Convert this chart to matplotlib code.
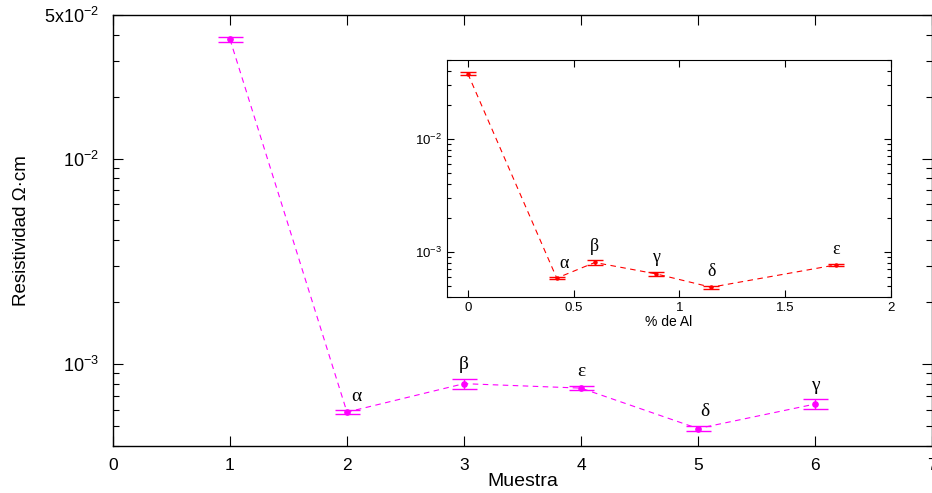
import matplotlib
matplotlib.use("Agg")
import matplotlib.pyplot as plt
from matplotlib.ticker import LogLocator, NullFormatter, FixedLocator, FixedFormatter

plt.rcParams['font.family'] = ['Liberation Sans', 'DejaVu Sans']
plt.rcParams['mathtext.fontset'] = 'custom'
plt.rcParams['mathtext.rm'] = 'Liberation Sans'

# Main data: resistivity vs sample number
muestra = [1, 2, 3, 4, 5, 6]
resist = [3.81e-2, 5.83e-4, 8.02e-4, 7.63e-4, 4.85e-4, 6.38e-4]
resist_err = [1.1e-3, 1.3e-5, 4.6e-5, 2.0e-5, 1.4e-5, 3.6e-5]
main_labels = ['', 'α', 'β', 'ε', 'δ', 'γ']

# Inset data: resistivity vs % Al
al_pct = [0.0, 0.42, 0.60, 0.89, 1.15, 1.74]
resist_al = [3.78e-2, 5.85e-4, 8.05e-4, 6.38e-4, 4.86e-4, 7.67e-4]
resist_al_err = [1.2e-3, 1.3e-5, 4.0e-5, 3.0e-5, 1.4e-5, 2.0e-5]
inset_labels = ['', 'α', 'β', 'γ', 'δ', 'ε']

fig = plt.figure(figsize=(9.32, 4.93), dpi=100)
ax = fig.add_axes([0.1212, 0.0959, 0.8788, 0.8737])

mag = '#ff00ff'
ax.errorbar(muestra, resist, yerr=resist_err, fmt='o', color=mag, ms=3.8,
            capsize=9, elinewidth=1, capthick=1, zorder=3)
ax.plot(muestra, resist, '--', color=mag, lw=0.8, dashes=(5, 4))
ax.set_yscale('log')
ax.set_xlim(0, 7)
ax.set_ylim(4e-4, 5e-2)
ax.set_xticks(range(0, 8))
ax.yaxis.set_major_locator(FixedLocator([1e-3, 1e-2, 5e-2]))
ax.yaxis.set_major_formatter(FixedFormatter([r'$10^{-3}$', r'$10^{-2}$', r'$5\mathrm{x}10^{-2}$']))
ax.yaxis.set_minor_locator(LogLocator(base=10, subs=[2, 3, 4, 5, 6, 7, 8, 9], numticks=20))
ax.yaxis.set_minor_formatter(NullFormatter())
ax.tick_params(which='both', direction='in', top=True, right=True, labelsize=12.5)
ax.tick_params(which='major', length=7, width=0.8)
ax.tick_params(which='minor', length=4, width=0.8)
ax.tick_params(axis='x', pad=9)
ax.tick_params(axis='y', pad=10, labelsize=13)
for s in ax.spines.values():
    s.set_linewidth(1.0)
ax.set_xlabel('Muestra', fontsize=14, labelpad=0)
ax.set_ylabel('Resistividad Ω·cm', fontsize=13.5, labelpad=10)

main_dx = {'α': 7, 'δ': 5}
for x, y, e, lab in zip(muestra, resist, resist_err, main_labels):
    if lab:
        ax.annotate(lab, (x, y + e), xytext=(main_dx.get(lab, 0), 4),
                    textcoords='offset points', ha='center', va='bottom',
                    fontsize=14, family='Liberation Serif')

# Inset
axi = fig.add_axes([0.4793, 0.398, 0.4767, 0.4803])
red = '#ff0000'
axi.errorbar(al_pct, resist_al, yerr=resist_al_err, fmt='o', color=red, ms=2.2,
             capsize=6, elinewidth=1, capthick=1, zorder=3)
axi.plot(al_pct, resist_al, '--', color=red, lw=0.8, dashes=(5, 4))
axi.set_yscale('log')
axi.set_xlim(-0.1, 2)
axi.set_ylim(4e-4, 5e-2)
axi.set_xticks([0, 0.5, 1, 1.5, 2])
axi.set_xticklabels(['0', '0.5', '1', '1.5', '2'])
axi.yaxis.set_major_locator(FixedLocator([1e-3, 1e-2]))
axi.yaxis.set_major_formatter(FixedFormatter([r'$10^{-3}$', r'$10^{-2}$']))
axi.yaxis.set_minor_locator(LogLocator(base=10, subs=[2, 3, 4, 5, 6, 7, 8, 9], numticks=20))
axi.yaxis.set_minor_formatter(NullFormatter())
axi.tick_params(which='both', direction='in', top=True, right=True, labelsize=9.5)
axi.tick_params(which='major', length=5, width=0.8)
axi.tick_params(which='minor', length=3, width=0.8)
axi.set_xlabel('% de Al', fontsize=10, labelpad=1)

inset_dx = {'α': 5}
for x, y, e, lab in zip(al_pct, resist_al, resist_al_err, inset_labels):
    if lab:
        axi.annotate(lab, (x, y + e), xytext=(inset_dx.get(lab, 0), 4),
                     textcoords='offset points', ha='center', va='bottom',
                     fontsize=13, family='Liberation Serif')

fig.savefig('out.png', dpi=100)
